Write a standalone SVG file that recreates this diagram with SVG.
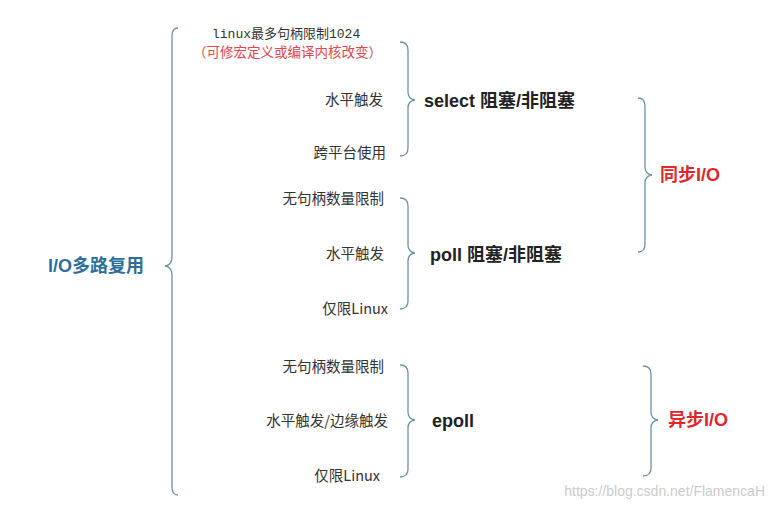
<svg xmlns="http://www.w3.org/2000/svg" width="775" height="509" viewBox="0 0 775 509">
<style>
.br{fill:none;stroke:#6f93a8;stroke-width:1.3}
.t{font-family:"Noto Sans CJK SC","Noto Sans",sans-serif;font-size:14.5px;fill:#333;text-anchor:end}
.h{font-family:"Liberation Sans","Noto Sans CJK SC",sans-serif;font-size:18px;font-weight:bold;fill:#222}
.r{font-family:"Liberation Sans","Noto Sans CJK SC",sans-serif;font-size:18px;font-weight:bold;fill:#e0262e}
</style>
<rect width="775" height="509" fill="#fff"/>
<g id="connectors">
<path class="br" d="M178,28 Q172,28 172,36 L172,257 Q172,265 165,266 Q172,267 172,275 L172,487 Q172,495 178,495"/>
<path class="br" d="M400,42 Q408,42 408,50 L408,92 Q408,99 415,100 Q408,101 408,108 L408,148 Q408,156 400,156"/>
<path class="br" d="M400,198 Q408,198 408,206 L408,245 Q408,252 415,253 Q408,254 408,261 L408,301 Q408,309 400,309"/>
<path class="br" d="M400,365 Q408,365 408,373 L408,412 Q408,419 415,420 Q408,421 408,428 L408,469 Q408,477 400,477"/>
<path class="br" d="M638,98 Q645,98 645,106 L645,167 Q645,174 652,175 Q645,176 645,183 L645,244 Q645,252 638,252"/>
<path class="br" d="M643,366 Q651,366 651,374 L651,412 Q651,419 658,420 Q651,421 651,428 L651,468 Q651,476 643,476"/>
</g>
<g id="root"><text x="48" y="272" style="font-family:'Liberation Sans','Noto Sans CJK SC',sans-serif;font-size:18px;font-weight:bold;fill:#2b6f9a">I/O多路复用</text></g>
<g id="select-items">
<text x="212" y="38" style="font-family:'Liberation Mono','Noto Sans CJK SC',monospace;font-size:13px;fill:#333">linux最多句柄限制1024</text>
<text x="193" y="57" style="font-family:'Noto Sans CJK SC',sans-serif;font-size:13.5px;fill:#e0474c">（可修宏定义或编译内核改变）</text>
<text class="t" x="383" y="105">水平触发</text>
<text class="t" x="386" y="158">跨平台使用</text>
</g>
<g id="select"><text class="h" x="424" y="107">select 阻塞/非阻塞</text></g>
<g id="poll-items">
<text class="t" x="384" y="204">无句柄数量限制</text>
<text class="t" x="384" y="259">水平触发</text>
<text class="t" x="388" y="314">仅限Linux</text>
</g>
<g id="poll"><text class="h" x="430" y="261">poll 阻塞/非阻塞</text></g>
<g id="epoll-items">
<text class="t" x="384" y="372">无句柄数量限制</text>
<text class="t" x="388" y="426">水平触发/边缘触发</text>
<text class="t" x="380" y="481">仅限Linux</text>
</g>
<g id="epoll"><text class="h" x="432" y="427">epoll</text></g>
<g id="sync"><text class="r" x="660" y="181">同步I/O</text></g>
<g id="async"><text class="r" x="668" y="426">异步I/O</text></g>
<text x="765" y="496" style="font-family:'Liberation Sans',sans-serif;font-size:14px;fill:#ccc;text-anchor:end">https://blog.csdn.net/FlamencaH</text>
</svg>
